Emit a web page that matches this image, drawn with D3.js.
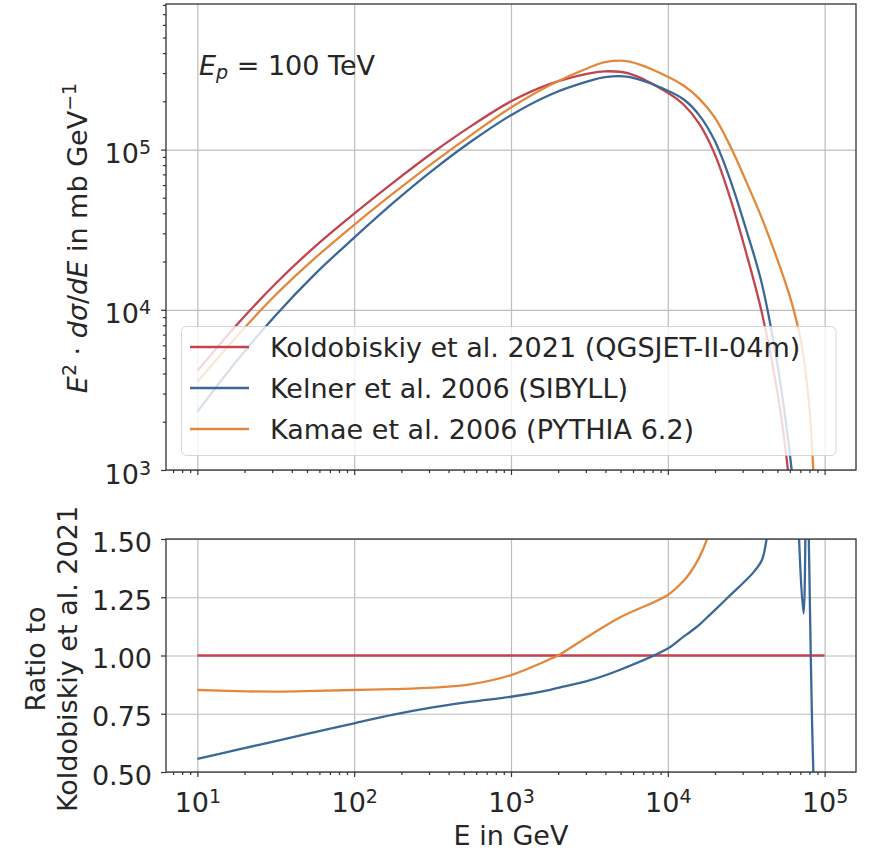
<!DOCTYPE html>
<html>
<head>
<meta charset="utf-8">
<script src="https://cdn.jsdelivr.net/npm/d3@7"></script>
<style>
body { margin: 0; background: #fff; }
text { font-family: "DejaVu Sans", sans-serif; fill: #262626; }
</style>
</head>
<body>
<div id="chart"></div>
<script>
/* E^2 dsigma/dE spectra, Ep = 100 TeV */
var energies = [10, 17.8, 31.6, 56.2, 100, 178, 316, 562, 1000, 1780, 3160, 3980, 5620,
	10000, 12590, 15850, 19950, 25120, 31620, 39810, 50120, 58340, 63100, 70790, 79430, 84140, 89130];
var koldobiskiy = [4160, 8040, 14600, 24800, 39800, 62400, 95500, 141000, 200000, 257000, 299000, 308000, 299000,
	226000, 191000, 145000, 93300, 49000, 22600, 9550, 3020, 1000, 400, 63, 8, 3, 1];
var kelner = [2310, 4790, 9250, 16700, 28200, 46600, 74100, 113000, 164000, 220000, 268000, 283000, 284000,
	233000, 206000, 164000, 113000, 63800, 31600, 14500, 4470, 1580, 794, 200, 32, 10, 3];
var kamae = [3540, 6810, 12400, 21000, 33900, 53400, 82300, 124000, 183000, 253000, 325000, 351000, 355000,
	285000, 251000, 208000, 158000, 104000, 63100, 37200, 20400, 13200, 10200, 6310, 2630, 1120, 355];

/* ratio to Koldobiskiy et al. 2021 */
var ratioEnergies = [10, 17.8, 31.6, 56.2, 100, 178, 316, 562, 1000, 1780, 1995, 3160, 5010,
	10000, 12590, 13800, 15850, 17780, 19950, 25120, 31620, 35480, 39810, 42660, 44670, 50120, 63100,
	68550, 73450, 76910, 85110, 91200, 100000];
var ratioKoldobiskiy = ratioEnergies.map(function() { return 1.0; });
var ratioKelner = [0.556, 0.595, 0.633, 0.671, 0.709, 0.746, 0.777, 0.802, 0.823, 0.853, 0.861, 0.893, 0.94,
	1.03, 1.081, 1.10, 1.131, 1.163, 1.195, 1.26, 1.324, 1.36, 1.41, 1.50, 1.6, 2.0, 3.0,
	1.52, 1.18, 1.8, 0.47, 0.15, 0.0];
var ratioKamae = [0.852, 0.847, 0.845, 0.848, 0.852, 0.856, 0.862, 0.877, 0.916, 0.985, 1.0, 1.085, 1.165,
	1.26, 1.32, 1.353, 1.42, 1.5, 1.62, 1.95, 2.4, 2.75, 3.2, 3.5, 3.8, 4.5, 8.0,
	10, 14, 20, 50, 200, 1000];

var seriesNames = ["Koldobiskiy et al. 2021 (QGSJET-II-04m)", "Kelner et al. 2006 (SIBYLL)", "Kamae et al. 2006 (PYTHIA 6.2)"];
var colors = ["#c1444e", "#3b6896", "#e3883a"];

var majorX = [1e1, 1e2, 1e3, 1e4, 1e5];
var majorYTop = [1e3, 1e4, 1e5];
var ratioTicks = [0.5, 0.75, 1.0, 1.25, 1.5];

var left = 166, right = 856,
	top1 = 4, bottom1 = 470,
	top2 = 539, bottom2 = 772;

var svg = d3.select("#chart")
	.append("svg")
	.attr("width", 869)
	.attr("height", 851);

var x = d3.scaleLog().domain([Math.pow(10, 0.8), Math.pow(10, 5.2)]).range([left, right]);
var yTop = d3.scaleLog().domain([1e3, 8.1e5]).range([bottom1, top1]);
var yBot = d3.scaleLinear().domain([0.5, 1.5]).range([bottom2, top2]);

var minorX = [];
[1, 10, 100, 1000, 10000].forEach(function(dec) {
	for (var k = 2; k < 10; k++) {
		var v = k * dec;
		if (v > x.domain()[0] && v < x.domain()[1]) minorX.push(v);
	}
});
var minorYTop = [];
[1e3, 1e4, 1e5].forEach(function(dec) {
	for (var k = 2; k < 10; k++) {
		var v = k * dec;
		if (v <= yTop.domain()[1]) minorYTop.push(v);
	}
});

var defs = svg.append("defs");
defs.append("clipPath").attr("id", "clipTop")
	.append("rect").attr("x", left).attr("y", top1).attr("width", right - left).attr("height", bottom1 - top1);
defs.append("clipPath").attr("id", "clipBot")
	.append("rect").attr("x", left).attr("y", top2).attr("width", right - left).attr("height", bottom2 - top2);

function styleGrid(g) {
	g.select(".domain").remove();
	g.selectAll("line").attr("stroke", "#bdbdbd").attr("stroke-width", 1.2);
	g.selectAll("text").remove();
}

/* grids */
svg.append("g").attr("transform", "translate(0," + bottom1 + ")")
	.call(d3.axisBottom(x).tickValues(majorX).tickSize(-(bottom1 - top1)).tickFormat(""))
	.call(styleGrid);
svg.append("g").attr("transform", "translate(" + left + ",0)")
	.call(d3.axisLeft(yTop).tickValues(majorYTop).tickSize(-(right - left)).tickFormat(""))
	.call(styleGrid);
svg.append("g").attr("transform", "translate(0," + bottom2 + ")")
	.call(d3.axisBottom(x).tickValues(majorX).tickSize(-(bottom2 - top2)).tickFormat(""))
	.call(styleGrid);
svg.append("g").attr("transform", "translate(" + left + ",0)")
	.call(d3.axisLeft(yBot).tickValues(ratioTicks).tickSize(-(right - left)).tickFormat(""))
	.call(styleGrid);

/* curves */
var lineTop = d3.line()
	.x(function(d) { return x(d[0]); })
	.y(function(d) { return yTop(d[1]); })
	.curve(d3.curveCatmullRom.alpha(0.5));
var lineBot = d3.line()
	.x(function(d) { return x(d[0]); })
	.y(function(d) { return yBot(d[1]); })
	.curve(d3.curveCatmullRom.alpha(0.5));

var topSeries = [koldobiskiy, kelner, kamae];
var botSeries = [ratioKoldobiskiy, ratioKelner, ratioKamae];

var gTop = svg.append("g").attr("clip-path", "url(#clipTop)");
topSeries.forEach(function(s, i) {
	gTop.append("path")
		.attr("d", lineTop(d3.zip(energies, s)))
		.attr("fill", "none")
		.attr("stroke", colors[i])
		.attr("stroke-width", 2.3)
		.attr("stroke-linejoin", "round");
});
var gBot = svg.append("g").attr("clip-path", "url(#clipBot)");
botSeries.forEach(function(s, i) {
	gBot.append("path")
		.attr("d", lineBot(d3.zip(ratioEnergies, s)))
		.attr("fill", "none")
		.attr("stroke", colors[i])
		.attr("stroke-width", 2.3)
		.attr("stroke-linejoin", "round");
});

/* E_p label */
var ep = svg.append("text").attr("x", 199).attr("y", 75).style("font-size", "27px");
ep.append("tspan").style("font-style", "italic").text("E");
ep.append("tspan").attr("dy", 4).style("font-style", "italic").style("font-size", "19px").text("p");
ep.append("tspan").attr("dy", -4).text(" = 100 TeV");

/* legend */
var legend = svg.append("g").attr("transform", "translate(181.5,326.5)");
legend.append("rect")
	.attr("width", 654.5).attr("height", 129)
	.attr("rx", 5).attr("ry", 5)
	.attr("fill", "#fff").attr("fill-opacity", 0.8)
	.attr("stroke", "#cccccc").attr("stroke-opacity", 0.8).attr("stroke-width", 1);
seriesNames.forEach(function(name, i) {
	var cy = 20.5 + i * 41;
	legend.append("line")
		.attr("x1", 8.5).attr("x2", 67.5).attr("y1", cy).attr("y2", cy)
		.attr("stroke", colors[i]).attr("stroke-width", 2.3);
	legend.append("text")
		.attr("x", 88.5).attr("y", cy + 10)
		.style("font-size", "27px")
		.text(name);
});

/* frames */
[[top1, bottom1], [top2, bottom2]].forEach(function(p) {
	svg.append("rect")
		.attr("x", left).attr("y", p[0])
		.attr("width", right - left).attr("height", p[1] - p[0])
		.attr("fill", "none").attr("stroke", "#333").attr("stroke-width", 1.3);
});

/* ticks */
function styleTicks(g) {
	g.select(".domain").remove();
	g.selectAll("line").attr("stroke", "#333").attr("stroke-width", 1.2);
	g.selectAll("text").style("font-size", "27px").attr("fill", "#262626");
}
function powLabels(g) {
	g.selectAll("text").each(function(d) {
		var t = d3.select(this);
		var k = Math.round(Math.log10(d));
		t.text(null);
		t.append("tspan").text("10");
		t.append("tspan").attr("dy", -9).style("font-size", "19px").text(k);
	});
}

svg.append("g").attr("transform", "translate(" + left + ",0)")
	.call(d3.axisLeft(yTop).tickValues(minorYTop).tickSize(3).tickFormat(""))
	.call(styleTicks);
svg.append("g").attr("transform", "translate(" + left + ",0)")
	.call(d3.axisLeft(yTop).tickValues(majorYTop).tickSize(5).tickPadding(5))
	.call(styleTicks)
	.call(powLabels)
	.call(function(g) { g.selectAll("text").attr("dy", 13).attr("x", -15); });

svg.append("g").attr("transform", "translate(0," + bottom1 + ")")
	.call(d3.axisBottom(x).tickValues(minorX).tickSize(3).tickFormat(""))
	.call(styleTicks);
svg.append("g").attr("transform", "translate(0," + bottom1 + ")")
	.call(d3.axisBottom(x).tickValues(majorX).tickSize(5).tickFormat(""))
	.call(styleTicks);

svg.append("g").attr("transform", "translate(0," + bottom2 + ")")
	.call(d3.axisBottom(x).tickValues(minorX).tickSize(3).tickFormat(""))
	.call(styleTicks);
svg.append("g").attr("transform", "translate(0," + bottom2 + ")")
	.call(d3.axisBottom(x).tickValues(majorX).tickSize(5))
	.call(styleTicks)
	.call(powLabels)
	.call(function(g) { g.selectAll("text").attr("y", 40).attr("dy", null); });

svg.append("g").attr("transform", "translate(" + left + ",0)")
	.call(d3.axisLeft(yBot).tickValues(ratioTicks).tickSize(5).tickPadding(5).tickFormat(d3.format(".2f")))
	.call(styleTicks)
	.call(function(g) { g.selectAll("text").attr("dy", 12).attr("x", -14); });

/* axis titles */
var yl = svg.append("text")
	.attr("transform", "translate(87,238) rotate(-90)")
	.attr("text-anchor", "middle")
	.style("font-size", "27px");
yl.append("tspan").style("font-style", "italic").text("E");
yl.append("tspan").attr("dy", -11).style("font-size", "19px").text("2");
yl.append("tspan").attr("dy", 11).text(" \u00b7 ");
yl.append("tspan").style("font-style", "italic").text("d\u03c3");
yl.append("tspan").text("/");
yl.append("tspan").style("font-style", "italic").text("dE");
yl.append("tspan").text(" in mb GeV");
yl.append("tspan").attr("dy", -11).style("font-size", "19px").text("\u22121");

svg.append("text")
	.attr("transform", "translate(45,659) rotate(-90)")
	.attr("text-anchor", "middle")
	.style("font-size", "27px")
	.text("Ratio to");
svg.append("text")
	.attr("transform", "translate(77,659) rotate(-90)")
	.attr("text-anchor", "middle")
	.style("font-size", "27px")
	.text("Koldobiskiy et al. 2021");

svg.append("text")
	.attr("x", (left + right) / 2).attr("y", 845)
	.attr("text-anchor", "middle")
	.style("font-size", "27px")
	.text("E in GeV");
</script>
</body>
</html>
